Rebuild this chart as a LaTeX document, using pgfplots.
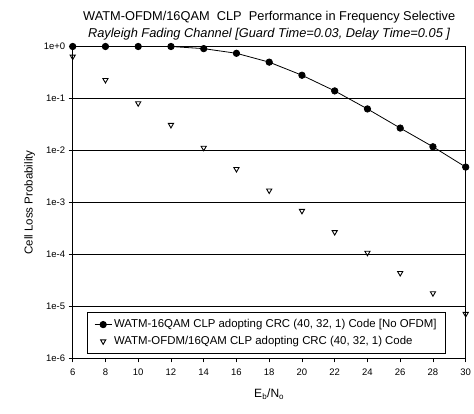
\documentclass[border=0pt]{standalone}
\usepackage{pgfplots}
\pgfplotsset{compat=1.18}
\usepackage{fontspec}
\setmainfont{Liberation Sans}
\begin{document}
\begin{tikzpicture}
\begin{axis}[
  scale only axis, width=393pt, height=312pt,
  ymode=log, xmin=6, xmax=30, ymin=1e-6, ymax=1,
  xtick={6,8,...,30},
  ytick={1,1e-1,1e-2,1e-3,1e-4,1e-5,1e-6},
  yticklabels={1e+0,1e-1,1e-2,1e-3,1e-4,1e-5,1e-6},
  yminorticks=false,
  ymajorgrids, major grid style={black, line width=0.7pt},
  axis line style={black, line width=0.8pt},
  tick style={black, line width=0.7pt},
  major tick length=4pt,
  tick align=outside,
  xtick pos=bottom, ytick pos=left,
  /pgf/number format/assume math mode=true,
  ticklabel style={font=\fontsize{9.5}{11}\selectfont},
  xticklabel style={yshift=-3pt},
  xlabel={E\textsubscript{b}/N\textsubscript{o}},
  ylabel={Cell Loss Probability},
  xlabel style={font=\fontsize{12}{14}\selectfont, yshift=-6pt},
  ylabel style={font=\fontsize{11.5}{14}\selectfont, yshift=2pt},
  title style={align=center, font=\fontsize{12.8}{17}\selectfont, yshift=-3pt},
  title={WATM-OFDM/16QAM\ \ CLP\ \ Performance in Frequency Selective\\\textit{Rayleigh Fading Channel [Guard Time=0.03, Delay Time=0.05 ]}},
  legend style={at={(0.036,0.014)}, anchor=south west, draw=black, line width=0.8pt,
    font=\fontsize{11.4}{14}\selectfont, inner xsep=7pt, inner ysep=5pt,
    nodes={inner ysep=2.5pt}, row sep=2pt},
  legend cell align=left,
  clip=false,
]
\addplot[black, line width=0.8pt, mark=*, mark size=3.2pt] coordinates {
 (6,1) (8,1) (10,1) (12,1) (14,0.91) (16,0.74) (18,0.50) (20,0.28) (22,0.14)
 (24,0.063) (26,0.027) (28,0.0118) (30,0.0048)};
\addlegendentry{WATM-16QAM CLP adopting CRC (40, 32, 1) Code [No OFDM]}
\addplot[only marks, black, line width=0.9pt, mark=triangle, mark size=3pt, mark options={rotate=180}] coordinates {
 (6,0.64) (8,0.227) (10,0.081) (12,0.031) (14,0.0113) (16,0.0044) (18,0.0017)
 (20,0.00069) (22,0.00027) (24,0.000108) (26,4.4e-5) (28,1.8e-5) (30,7.2e-6)};
\addlegendentry{WATM-OFDM/16QAM CLP adopting CRC (40, 32, 1) Code}
\end{axis}
\pgfresetboundingbox
\path[use as bounding box] (-72.7pt,-55.5pt) rectangle (401.3pt,358.5pt);
\end{tikzpicture}
\end{document}
